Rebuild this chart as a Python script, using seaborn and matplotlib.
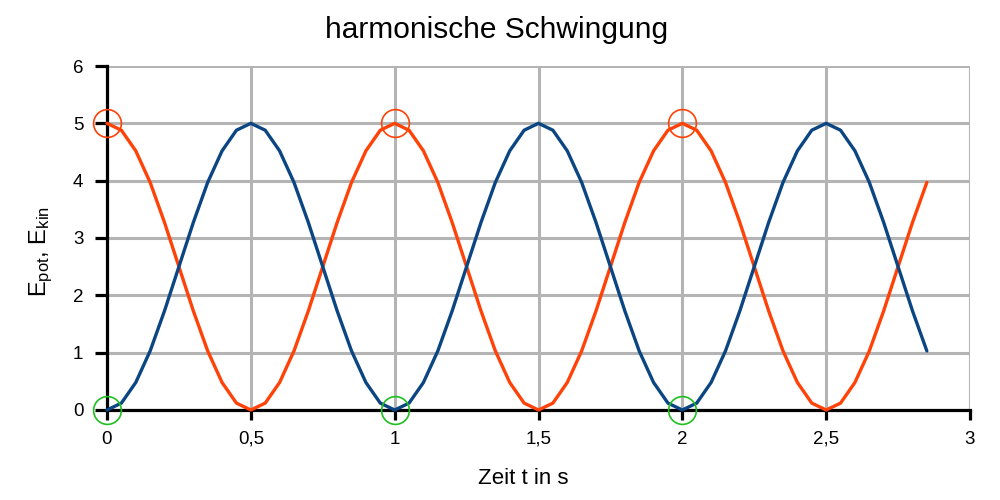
import matplotlib
matplotlib.use("Agg")
import matplotlib.pyplot as plt
import seaborn as sns
import pandas as pd

# ---- data ----
zeit = [0.00, 0.05, 0.10, 0.15, 0.20, 0.25, 0.30, 0.35, 0.40, 0.45,
        0.50, 0.55, 0.60, 0.65, 0.70, 0.75, 0.80, 0.85, 0.90, 0.95,
        1.00, 1.05, 1.10, 1.15, 1.20, 1.25, 1.30, 1.35, 1.40, 1.45,
        1.50, 1.55, 1.60, 1.65, 1.70, 1.75, 1.80, 1.85, 1.90, 1.95,
        2.00, 2.05, 2.10, 2.15, 2.20, 2.25, 2.30, 2.35, 2.40, 2.45,
        2.50, 2.55, 2.60, 2.65, 2.70, 2.75, 2.80, 2.85]
e_kin = [0.00, 0.12, 0.48, 1.03, 1.73, 2.50, 3.27, 3.97, 4.52, 4.88,
         5.00, 4.88, 4.52, 3.97, 3.27, 2.50, 1.73, 1.03, 0.48, 0.12,
         0.00, 0.12, 0.48, 1.03, 1.73, 2.50, 3.27, 3.97, 4.52, 4.88,
         5.00, 4.88, 4.52, 3.97, 3.27, 2.50, 1.73, 1.03, 0.48, 0.12,
         0.00, 0.12, 0.48, 1.03, 1.73, 2.50, 3.27, 3.97, 4.52, 4.88,
         5.00, 4.88, 4.52, 3.97, 3.27, 2.50, 1.73, 1.03]
e_pot = [5.00, 4.88, 4.52, 3.97, 3.27, 2.50, 1.73, 1.03, 0.48, 0.12,
         0.00, 0.12, 0.48, 1.03, 1.73, 2.50, 3.27, 3.97, 4.52, 4.88,
         5.00, 4.88, 4.52, 3.97, 3.27, 2.50, 1.73, 1.03, 0.48, 0.12,
         0.00, 0.12, 0.48, 1.03, 1.73, 2.50, 3.27, 3.97, 4.52, 4.88,
         5.00, 4.88, 4.52, 3.97, 3.27, 2.50, 1.73, 1.03, 0.48, 0.12,
         0.00, 0.12, 0.48, 1.03, 1.73, 2.50, 3.27, 3.97]
marker_t = [0, 1, 2]
marker_pot = [5, 5, 5]
marker_kin = [0, 0, 0]
x_ticks = [0, 0.5, 1, 1.5, 2, 2.5, 3]
x_tick_labels = ["0", "0,5", "1", "1,5", "2", "2,5", "3"]
y_ticks = [0, 1, 2, 3, 4, 5, 6]
y_tick_labels = ["0", "1", "2", "3", "4", "5", "6"]

title = "harmonische Schwingung"
xlabel = "Zeit t in s"
ylabel = r"E$_{pot}$, E$_{kin}$"

BLUE = "#0b4683"
ORANGE = "#ff4208"
GREEN = "#20c020"
GRID = "#b4b4b4"

sns.set_theme(style="white")
plt.rcParams["font.family"] = ["Liberation Sans", "DejaVu Sans"]
plt.rcParams["mathtext.default"] = "regular"
plt.rcParams["text.color"] = "black"
plt.rcParams["axes.labelcolor"] = "black"
plt.rcParams["xtick.color"] = "black"
plt.rcParams["ytick.color"] = "black"

df = pd.DataFrame({"t": zeit, "kin": e_kin, "pot": e_pot})

fig = plt.figure(figsize=(10, 5), dpi=100)
ax = fig.add_axes([0.107, 0.18, 0.863, 0.688])

sns.lineplot(data=df, x="t", y="pot", color=ORANGE, lw=2.4, ax=ax,
             clip_on=False, zorder=3)
sns.lineplot(data=df, x="t", y="kin", color=BLUE, lw=2.4, ax=ax,
             clip_on=False, zorder=3)

sns.lineplot(x=marker_t, y=marker_pot, color=ORANGE, marker="o",
             linestyle="", markersize=20, markerfacecolor="none",
             markeredgecolor=ORANGE, markeredgewidth=1.2, ax=ax,
             clip_on=False, zorder=6)
sns.lineplot(x=marker_t, y=marker_kin, color=GREEN, marker="o",
             linestyle="", markersize=20, markerfacecolor="none",
             markeredgecolor=GREEN, markeredgewidth=1.2, ax=ax,
             clip_on=False, zorder=6)

ax.set_xlim(0, 3)
ax.set_ylim(0, 6)
ax.set_xticks(x_ticks)
ax.set_xticklabels(x_tick_labels)
ax.set_yticks(y_ticks)
ax.set_yticklabels(y_tick_labels)

ax.grid(True, color=GRID, lw=2.2)
ax.set_axisbelow(True)
for s in ["top", "right"]:
    ax.spines[s].set_visible(False)
for s in ["left", "bottom"]:
    ax.spines[s].set_color("black")
    ax.spines[s].set_linewidth(2.3)
    ax.spines[s].set_zorder(2.5)

ax.tick_params(axis="x", direction="out", length=7, width=2.3, colors="black",
               pad=8, labelsize=13.5, bottom=True)
ax.tick_params(axis="y", direction="out", length=9, width=2.3, colors="black",
               pad=8, labelsize=13.5, left=True)

ax.set_xlabel(xlabel, fontsize=16, color="black")
ax.xaxis.set_label_coords(0.482, -0.17)
ax.set_ylabel(ylabel, fontsize=17, color="black")
ax.yaxis.set_label_coords(-0.06, 0.46)

fig.text(0.497, 0.94, title, ha="center", va="center", fontsize=21.5,
         color="black")

fig.savefig("out.png", dpi=100, facecolor="white")
